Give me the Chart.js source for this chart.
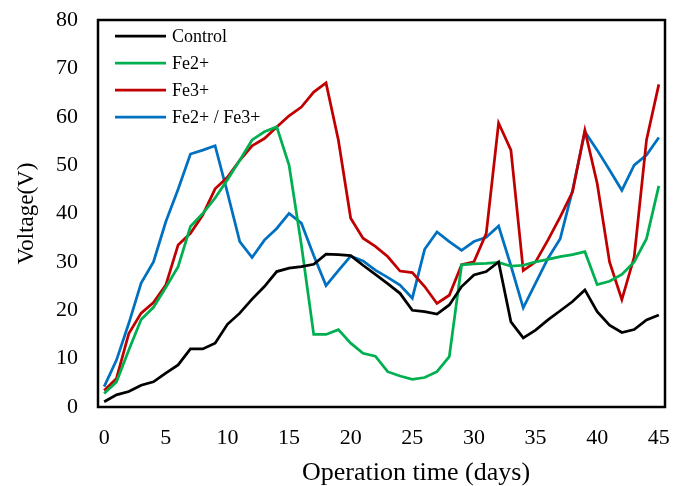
<!DOCTYPE html>
<html lang="en">
<head>
    <meta charset="UTF-8">
    <title>Voltage vs operation time</title>
    <script src="https://cdn.jsdelivr.net/npm/chart.js"></script>
    <style>
        body { margin: 0; background: #fff; }
        #wrap { width: 674px; height: 486px; }
    </style>
    <script>
        var days = [0, 1, 2, 3, 4, 5, 6, 7, 8, 9, 10, 11, 12, 13, 14, 15, 16, 17, 18, 19, 20, 21, 22,
            23, 24, 25, 26, 27, 28, 29, 30, 31, 32, 33, 34, 35, 36, 37, 38, 39, 40, 41, 42, 43, 44, 45];

        var control = [1.1, 2.5, 3.2, 4.5, 5.2, 7.0, 8.7, 12.0, 12.0, 13.2,
            17.1, 19.4, 22.3, 24.9, 28.0, 28.7, 29.0, 29.5, 31.6, 31.5,
            31.3, 29.3, 27.4, 25.5, 23.5, 20.0, 19.7, 19.2, 21.1, 24.9,
            27.3, 28.0, 30.0, 17.6, 14.3, 15.9, 18.0, 19.9, 21.8, 24.2,
            19.7, 16.9, 15.4, 16.0, 18.0, 19.0];

        var fe2 = [2.8, 5.2, 11.8, 18.1, 20.6, 24.7, 29.0, 37.3, 40.0, 43.2,
            47.0, 51.0, 55.2, 56.9, 57.9, 50.0, 33.5, 15.0, 15.0, 16.0,
            13.2, 11.1, 10.5, 7.3, 6.4, 5.7, 6.1, 7.3, 10.4, 29.4,
            29.6, 29.7, 29.9, 29.1, 29.3, 30.0, 30.5, 31.1, 31.5, 32.1,
            25.3, 26.0, 27.4, 30.0, 34.8, 45.7];

        var fe3 = [3.4, 5.9, 15.2, 19.4, 21.6, 25.2, 33.5, 35.9, 39.7, 45.1,
            47.5, 51.0, 54.0, 55.5, 57.9, 60.2, 62.0, 65.1, 67.0, 55.2,
            39.0, 34.9, 33.2, 31.1, 28.1, 27.8, 24.9, 21.4, 23.1, 29.4,
            30.0, 35.9, 58.7, 53.1, 28.2, 30.0, 34.5, 39.3, 44.5, 57.2,
            46.2, 30.0, 22.2, 31.0, 55.2, 66.7];

        var fe2fe3 = [4.2, 9.7, 17.3, 25.6, 30.0, 38.3, 45.0, 52.3, 53.1, 54.0,
            44.3, 34.2, 30.9, 34.5, 36.9, 40.0, 38.0, 31.3, 25.1, 28.2,
            31.2, 30.2, 28.3, 26.8, 25.2, 22.5, 32.6, 36.2, 34.2, 32.4,
            34.2, 35.1, 37.4, 29.2, 20.5, 25.6, 30.7, 34.8, 44.8, 56.9,
            53.1, 49.0, 44.8, 50.0, 52.1, 55.7];

        var seriesNames = ['Control', 'Fe2+', 'Fe3+', 'Fe2+ / Fe3+'];
        var xTicks = [0, 5, 10, 15, 20, 25, 30, 35, 40, 45];
        var yTicks = [0, 10, 20, 30, 40, 50, 60, 70, 80];
        var xTitle = 'Operation time (days)';

        var serif = 'Liberation Serif';

        // box round the plot area, like the Excel chart
        var frame = {
            id: 'frame',
            beforeDatasetsDraw: function(chart) {
                var a = chart.chartArea;
                var ctx = chart.ctx;
                ctx.save();
                ctx.strokeStyle = '#000';
                ctx.lineWidth = 2.5;
                ctx.strokeRect(a.left, a.top, a.right - a.left, a.bottom - a.top);
                ctx.restore();
            }
        };

        // legend inside the plot, top left, one row per dataset
        // plus the x axis title, which sits right of the plot centre in the original
        var extras = {
            id: 'extras',
            afterDatasetsDraw: function(chart) {
                var a = chart.chartArea;
                var ctx = chart.ctx;
                ctx.save();
                ctx.font = '18px "' + serif + '"';
                ctx.textBaseline = 'middle';
                ctx.fillStyle = '#000';
                chart.data.datasets.forEach(function(ds, i) {
                    var y = a.top + 16 + i * 27;
                    var x = a.left + 17;
                    ctx.strokeStyle = ds.borderColor;
                    ctx.lineWidth = ds.borderWidth;
                    ctx.beginPath();
                    ctx.moveTo(x, y);
                    ctx.lineTo(x + 51, y);
                    ctx.stroke();
                    ctx.fillText(ds.label, x + 57, y + 1);
                });

                ctx.font = '26px "' + serif + '"';
                ctx.textAlign = 'center';
                ctx.textBaseline = 'alphabetic';
                ctx.fillText(xTitle, 416, 480);
                ctx.restore();
            }
        };

        function line(label, data, colour) {
            return {
                label: label,
                data: data,
                borderColor: colour,
                backgroundColor: colour,
                borderWidth: 2.75,
                pointRadius: 0,
                tension: 0,
                fill: false
            };
        }

        // gap between labels and axis is made with invisible tick marks,
        // ticks.padding would also push the plot area in
        var hiddenGrid = { display: true, drawOnChartArea: false, drawTicks: true, color: 'rgba(0,0,0,0)' };

        function drawChart() {
            var ctx = document.getElementById('grafico').getContext('2d');
            new Chart(ctx, {
                type: 'line',
                data: {
                    labels: days,
                    datasets: [
                        line(seriesNames[0], control, '#000000'),
                        line(seriesNames[1], fe2, '#00B050'),
                        line(seriesNames[2], fe3, '#C00000'),
                        line(seriesNames[3], fe2fe3, '#0070C0')
                    ]
                },
                options: {
                    responsive: true,
                    maintainAspectRatio: false,
                    animation: false,
                    layout: { padding: { top: 20, right: 9, left: 0, bottom: 0 } },
                    plugins: {
                        tooltip: { enabled: false },
                        legend: { display: false }
                    },
                    scales: {
                        x: {
                            type: 'linear',
                            min: -0.5,
                            max: 45.5,
                            afterBuildTicks: function(scale) {
                                scale.ticks = xTicks.map(function(v) { return { value: v }; });
                            },
                            afterFit: function(scale) { scale.height = 79; },
                            grid: Object.assign({ tickLength: 18 }, hiddenGrid),
                            border: { display: false },
                            ticks: { padding: 0, color: '#000', font: { family: serif, size: 22 }, maxRotation: 0 }
                        },
                        y: {
                            min: 0,
                            max: 80,
                            afterBuildTicks: function(scale) {
                                scale.ticks = yTicks.map(function(v) { return { value: v }; });
                            },
                            afterFit: function(scale) { scale.width = 98; },
                            grid: Object.assign({ tickLength: 20 }, hiddenGrid),
                            border: { display: false },
                            ticks: { padding: 0, color: '#000', font: { family: serif, size: 22 } },
                            title: {
                                display: true,
                                text: 'Voltage(V)',
                                color: '#000',
                                font: { family: serif, size: 23 },
                                padding: { top: 13, bottom: 0 }
                            }
                        }
                    }
                },
                plugins: [frame, extras]
            });
        }

        window.onload = function() {
            drawChart();
        };
    </script>
</head>
<body>
    <div id="wrap"><canvas id="grafico"></canvas></div>
</body>
</html>
